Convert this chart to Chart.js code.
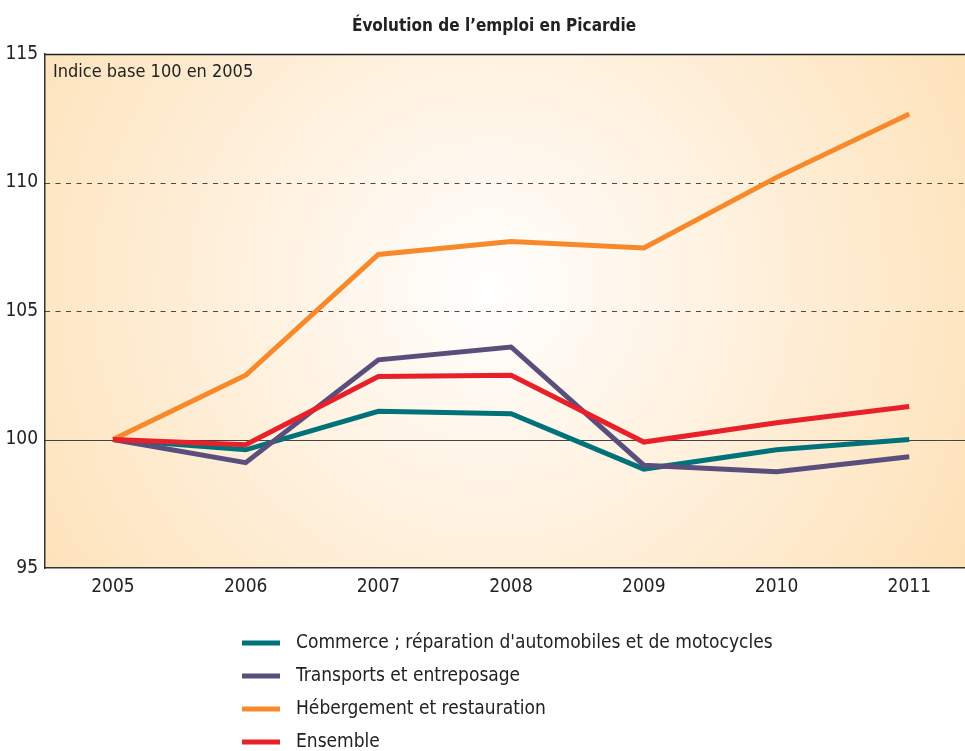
<!DOCTYPE html>
<html>
<head>
<meta charset="utf-8">
<script src="https://cdn.jsdelivr.net/npm/chart.js@4"></script>
<style>
  html, body { margin: 0; padding: 0; background: #fff; }
  #wrap { width: 965px; height: 751px; }
</style>
</head>
<body>
<div id="wrap"><canvas id="emploi-chart" width="965" height="751"></canvas></div>
<script>
const years = [2005, 2006, 2007, 2008, 2009, 2010, 2011];
const yTicks = [95, 100, 105, 110, 115];

const commerce = [100, 99.6, 101.1, 101.0, 98.85, 99.6, 100.0];
const transports = [100, 99.1, 103.1, 103.6, 99.0, 98.75, 99.33];
const hebergement = [100, 102.5, 107.2, 107.7, 107.45, 110.2, 112.67];
const ensemble = [100, 99.8, 102.45, 102.5, 99.9, 100.65, 101.28];

const seriesNames = [
  "Commerce ; réparation d'automobiles et de motocycles",
  "Transports et entreposage",
  "Hébergement et restauration",
  "Ensemble",
];

const font = "'Liberation Sans Narrow', 'DejaVu Sans Condensed', 'Liberation Sans', sans-serif";
const toPoints = (values) => values.map((v, i) => ({ x: years[i], y: v }));

const decor = {
  id: "decor",
  beforeDraw(chart) {
    const { ctx, chartArea: a } = chart;
    ctx.save();
    const grad = ctx.createRadialGradient(490, 290, 0, 490, 290, 560);
    grad.addColorStop(0, "#ffffff");
    grad.addColorStop(0.3, "#fff5e8");
    grad.addColorStop(1, "#fde1b6");
    ctx.fillStyle = grad;
    ctx.fillRect(a.left, a.top, a.right - a.left, a.bottom - a.top);

    const y = chart.scales.y;
    ctx.lineWidth = 1;
    [105, 110].forEach((v) => {
      const py = Math.round(y.getPixelForValue(v)) + 0.5;
      ctx.strokeStyle = "#4a4a4a";
      ctx.setLineDash([5, 5.5]);
      ctx.beginPath();
      ctx.moveTo(a.left, py);
      ctx.lineTo(a.right, py);
      ctx.stroke();
    });
    ctx.setLineDash([]);
    const p100 = Math.round(y.getPixelForValue(100)) + 0.5;
    ctx.strokeStyle = "#444";
    ctx.beginPath();
    ctx.moveTo(a.left, p100);
    ctx.lineTo(a.right, p100);
    ctx.stroke();
    const pTop = Math.round(y.getPixelForValue(115)) + 0.5;
    ctx.strokeStyle = "#222";
    ctx.lineWidth = 1.5;
    ctx.beginPath();
    ctx.moveTo(a.left, pTop);
    ctx.lineTo(a.right, pTop);
    ctx.stroke();

    ctx.fillStyle = "#222";
    ctx.font = "bold 17px " + font;
    ctx.textAlign = "center";
    ctx.textBaseline = "middle";
    ctx.fillText("Évolution de l’emploi en Picardie", 494, 27);

    ctx.font = "18px " + font;
    ctx.textAlign = "left";
    ctx.fillText("Indice base 100 en 2005", 53, 72);
    ctx.restore();
  },
  afterDraw(chart) {
    const { ctx } = chart;
    ctx.save();
    ctx.font = "19px " + font;
    ctx.textBaseline = "middle";
    chart.data.datasets.forEach((ds, i) => {
      const cy = 643 + i * 33;
      ctx.strokeStyle = ds.borderColor;
      ctx.lineWidth = 5;
      ctx.beginPath();
      ctx.moveTo(242, cy);
      ctx.lineTo(280, cy);
      ctx.stroke();
      ctx.fillStyle = "#222";
      ctx.fillText(ds.label, 296, cy);
    });
    ctx.restore();
  },
};

const colors = ["#00737a", "#5a4f7c", "#f7892a", "#e8202a"];

const ctx = document.getElementById("emploi-chart");
const chart = new Chart(ctx, {
  type: "line",
  data: {
    datasets: [commerce, transports, hebergement, ensemble].map((values, i) => ({
      label: seriesNames[i],
      data: toPoints(values),
      borderColor: colors[i],
      backgroundColor: colors[i],
      borderWidth: 5,
      pointRadius: 0,
      tension: 0,
      order: 3 - i,
    })),
  },
  options: {
    responsive: false,
    animation: false,
    layout: { padding: { top: 54, right: 0, bottom: 143, left: 0 } },
    plugins: {
      legend: { display: false },
      title: { display: false },
      tooltip: { enabled: false },
    },
    scales: {
      x: {
        type: "linear",
        min: 2004.488,
        max: 2011.42,
        afterBuildTicks: (scale) => {
          scale.ticks = years.map((v) => ({ value: v }));
        },
        afterFit: (scale) => {
          scale.height = 40;
        },
        grid: { display: false, drawTicks: false },
        border: { color: "#333", width: 1.5 },
        ticks: {
          color: "#222",
          padding: 8,
          maxRotation: 0,
          font: { family: font, size: 19 },
          callback: (v) => String(v),
        },
      },
      y: {
        min: 95,
        max: 115,
        afterBuildTicks: (scale) => {
          scale.ticks = yTicks.map((v) => ({ value: v }));
        },
        afterFit: (scale) => {
          scale.width = 45;
        },
        grid: { display: false, drawTicks: false },
        border: { color: "#333", width: 1.5 },
        ticks: {
          color: "#222",
          padding: 7,
          font: { family: font, size: 19 },
        },
      },
    },
  },
  plugins: [decor],
});
</script>
</body>
</html>
